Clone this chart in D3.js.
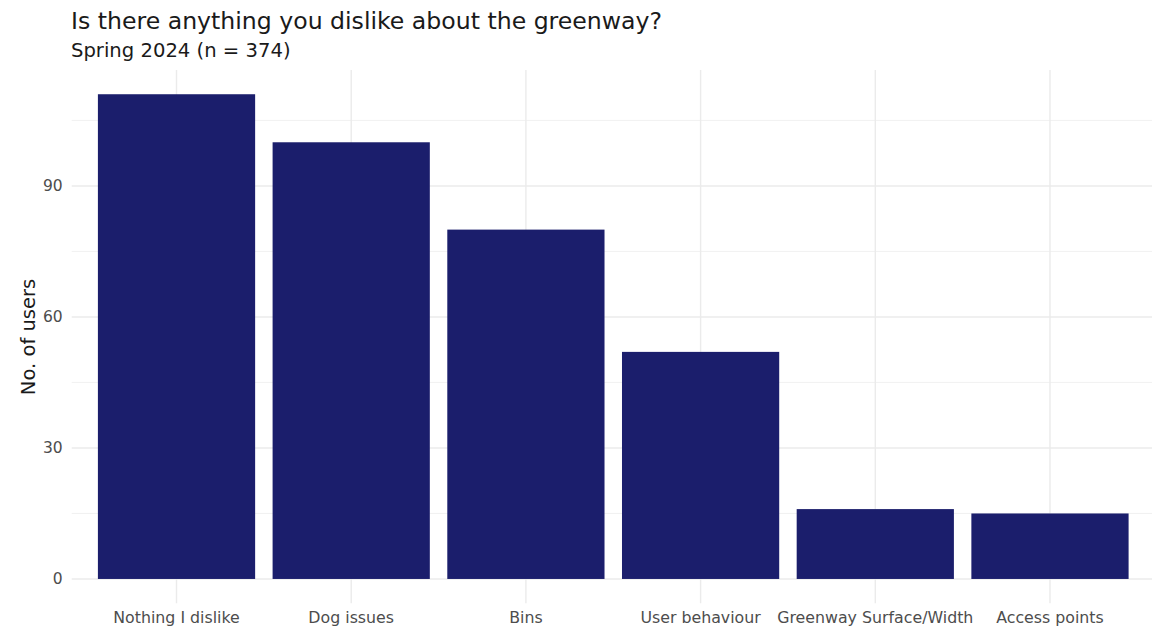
<!DOCTYPE html>
<html><head><meta charset="utf-8">
<script src="https://cdn.jsdelivr.net/npm/d3@7"></script>
<style>body{margin:0;background:#fff;font-family:"DejaVu Sans",sans-serif}</style>
</head><body>
<svg id="c" width="1152" height="629"></svg>
<script>
const categories = ["Nothing I dislike","Dog issues","Bins","User behaviour","Greenway Surface/Width","Access points"];
const users = [111,100,80,52,16,15];
const yTicks = [0,30,60,90];
const yMinor = [15,45,75,105];

const svg = d3.select("#c");
const pL = 71.7, pR = 1154.8, pT = 70, pB = 603.2;
const x = d3.scaleBand().domain(categories).range([pL,pR]).paddingInner(0.1).paddingOuter(0.15);
const xc = d => x(d) + x.bandwidth()/2;
const y = d3.scaleLinear().domain([-5.55,116.55]).range([pB,pT]);

const g = svg.append("g");
g.selectAll(".ym").data(yMinor).join("line").attr("x1",pL).attr("x2",pR)
 .attr("y1",d=>y(d)).attr("y2",d=>y(d)).attr("stroke","#ebebeb").attr("stroke-width",0.7);
g.selectAll(".yM").data(yTicks).join("line").attr("x1",pL).attr("x2",pR)
 .attr("y1",d=>y(d)).attr("y2",d=>y(d)).attr("stroke","#ebebeb").attr("stroke-width",1.4);
g.selectAll(".xM").data(categories).join("line").attr("x1",d=>xc(d)).attr("x2",d=>xc(d))
 .attr("y1",pT).attr("y2",pB).attr("stroke","#ebebeb").attr("stroke-width",1.4);

g.selectAll("rect.bar").data(categories).join("rect").attr("class","bar")
 .attr("x",d=>x(d)).attr("width",x.bandwidth())
 .attr("y",(d,i)=>y(users[i])).attr("height",(d,i)=>y(0)-y(users[i]))
 .attr("fill","#1b1e6c");

const ya = svg.append("g").attr("transform",`translate(${pL},0)`)
 .call(d3.axisLeft(y).tickValues(yTicks).tickSize(0).tickPadding(9));
ya.select(".domain").remove();
ya.selectAll("text").attr("font-family","DejaVu Sans").attr("font-size",15.5).attr("fill","#4d4d4d");

const xa = svg.append("g").attr("transform",`translate(0,${pB})`)
 .call(d3.axisBottom(x).tickSize(0).tickPadding(9));
xa.select(".domain").remove();
xa.selectAll("text").attr("font-family","DejaVu Sans").attr("font-size",15.8).attr("fill","#4d4d4d");

svg.append("text").attr("transform","translate(35,337) rotate(-90)").attr("text-anchor","middle")
 .attr("font-size",19.5).attr("fill","#1a1a1a").text("No. of users");

svg.append("text").attr("x",71).attr("y",29).attr("font-size",23.6).attr("fill","#1a1a1a")
 .text("Is there anything you dislike about the greenway?");
svg.append("text").attr("x",71).attr("y",57).attr("font-size",19.6).attr("fill","#1a1a1a")
 .text("Spring 2024 (n = 374)");
</script>
</body></html>
